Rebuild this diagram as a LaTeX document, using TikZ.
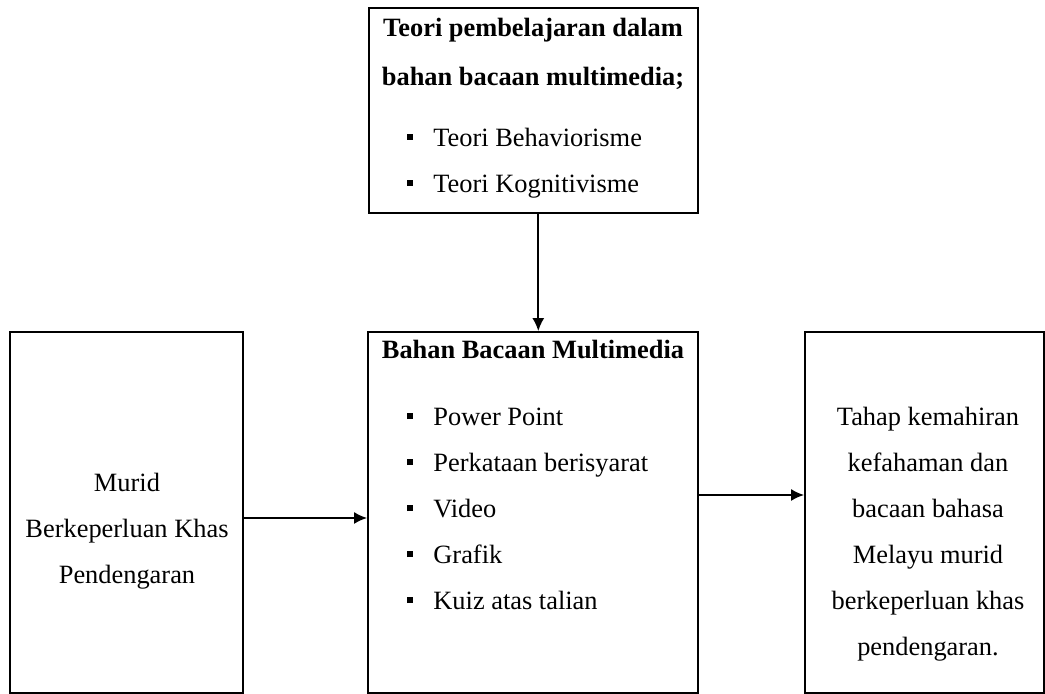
\documentclass[tikz,border=0pt]{standalone}
\usepackage{fontspec}
\setmainfont{Liberation Serif}
\usetikzlibrary{arrows.meta}

\newcommand{\butir}[1]{\makebox[13pt][l]{\rule[3.2pt]{3pt}{3pt}}#1}

\begin{document}
\begin{tikzpicture}[x=0.5pt,y=-0.5pt,
    box/.style={draw, line width=0.9pt, inner sep=0pt},
    teks/.style={inner sep=0pt, font=\fontsize{13.2}{23}\selectfont, align=center},
    senarai/.style={inner sep=0pt, font=\fontsize{13.2}{23}\selectfont, align=left, anchor=west},
    arr/.style={line width=0.9pt, -{Latex[length=6.5pt,width=6pt]}}]
    \useasboundingbox (0,0) rectangle (1045,694);
    % kotak
    \node[box, minimum width=164.5pt, minimum height=102.5pt] (teori) at (533.5,110.5) {};
    \node[box, minimum width=165pt, minimum height=180.5pt] (bahan) at (533,512.5) {};
    \node[box, minimum width=116.5pt, minimum height=180.5pt] (murid) at (126.5,512.5) {};
    \node[box, minimum width=119.5pt, minimum height=180.5pt] (tahap) at (924.5,512.5) {};
    % teks
    \node[teks, font=\fontsize{13.2}{24.5}\selectfont\bfseries] (teoriJudul) at (533,54) {Teori pembelajaran dalam\\bahan bacaan multimedia;};
    \node[senarai] (teoriSenarai) at (407,163) {\butir{Teori Behaviorisme}\\\butir{Teori Kognitivisme}};
    \node[teks, font=\fontsize{13.2}{23}\selectfont\bfseries] (bahanJudul) at (533,350) {Bahan Bacaan Multimedia};
    \node[senarai] (bahanSenarai) at (407,509) {\butir{Power Point}\\\butir{Perkataan berisyarat}\\\butir{Video}\\\butir{Grafik}\\\butir{Kuiz atas talian}};
    \node[teks] (muridTeks) at (127,531) {Murid\\Berkeperluan Khas\\Pendengaran};
    \node[teks] (tahapTeks) at (928,534) {Tahap kemahiran\\kefahaman dan\\bacaan bahasa\\Melayu murid\\berkeperluan khas\\pendengaran.};
    % anak panah
    \draw[arr] ([xshift=2.4pt]teori.south) -- ([xshift=2.4pt]teori.south |- bahan.north);
    \draw[arr] ([yshift=-2.75pt]murid.east) -- ([yshift=-2.75pt]bahan.west);
    \draw[arr] ([yshift=8.75pt]bahan.east) -- ([yshift=8.75pt]tahap.west);
\end{tikzpicture}
\end{document}
